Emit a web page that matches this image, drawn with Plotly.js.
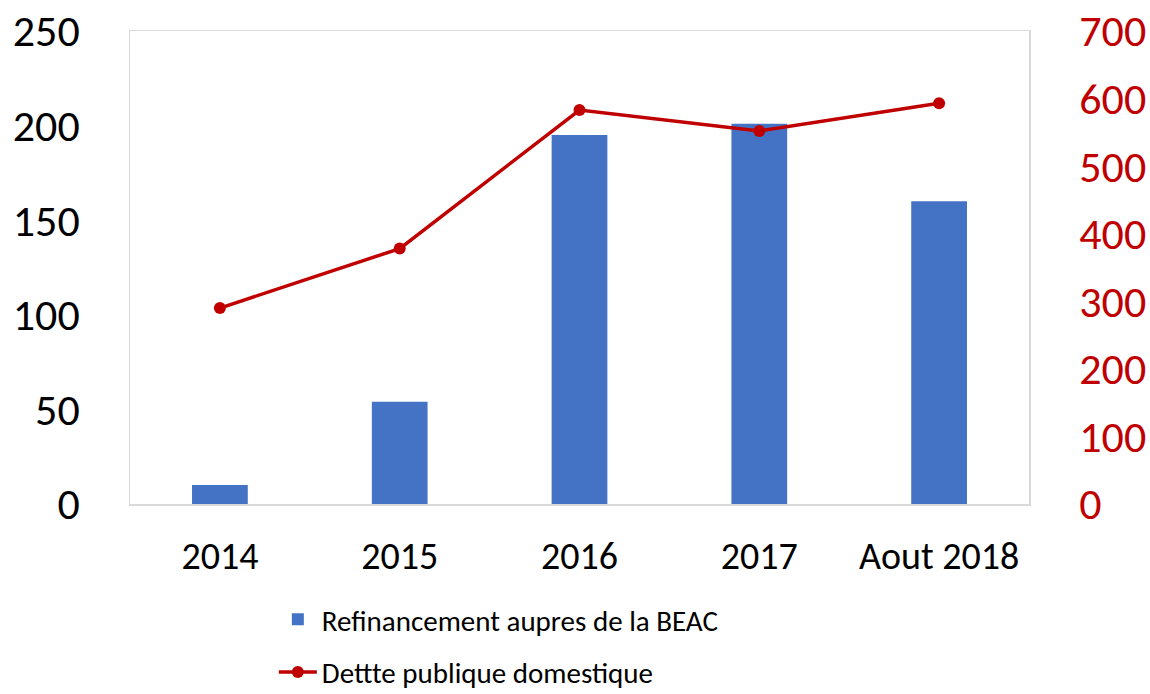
<!DOCTYPE html>
<html>
<head>
<meta charset="utf-8">
<script src="https://cdn.plot.ly/plotly-3.0.1.min.js"></script>
<style>html,body{margin:0;padding:0;background:#fff;}</style>
</head>
<body>
<div id="chart" style="width:1150px;height:694px;"></div>
<script>
const categories = ["2014", "2015", "2016", "2017", "Aout 2018"];
const refinancementBEAC = [10, 54, 195, 201, 160];
const dettePublique = [290, 378, 583, 552, 593];
const leftTicks = [0, 50, 100, 150, 200, 250];
const rightTicks = [0, 100, 200, 300, 400, 500, 600, 700];

const FONT = "Carlito, Calibri, Lato, 'Open Sans', sans-serif";

const traces = [
  {
    type: "bar",
    name: "Refinancement aupres de la BEAC",
    x: categories,
    y: refinancementBEAC,
    marker: {color: "#4472C4"},
    width: 0.31,
    yaxis: "y",
    legendgroup: "a"
  },
  {
    type: "scatter",
    mode: "lines+markers",
    name: "Dettte publique domestique",
    x: categories,
    y: dettePublique,
    line: {color: "#C00000", width: 3.5},
    marker: {color: "#C00000", size: 12},
    yaxis: "y2",
    legendgroup: "b"
  }
];

const layout = {
  width: 1150,
  height: 694,
  margin: {l: 130, r: 121, t: 31, b: 190, autoexpand: false},
  paper_bgcolor: "#ffffff",
  plot_bgcolor: "#ffffff",
  font: {family: FONT, color: "#000000"},
  showlegend: true,
  legend: {
    x: 0.16, xanchor: "left",
    y: -0.19, yanchor: "top",
    orientation: "v",
    font: {family: FONT, size: 29, color: "#000000"},
    traceorder: "grouped",
    tracegroupgap: 12,
    itemwidth: 38
  },
  xaxis: {
    type: "category",
    tickfont: {family: FONT, size: 38, color: "#000000"},
    showline: true,
    linecolor: "#d9d9d9",
    linewidth: 1.5,
    mirror: true,
    showgrid: false,
    ticks: "",
    ticklabelstandoff: 18
  },
  yaxis: {
    range: [0, 250],
    tickvals: leftTicks,
    tickfont: {family: FONT, size: 44, color: "#000000"},
    showgrid: false,
    zeroline: false,
    showline: true,
    linecolor: "#d9d9d9",
    linewidth: 1.5,
    ticks: "",
    ticklabelstandoff: 40
  },
  yaxis2: {
    overlaying: "y",
    side: "right",
    range: [0, 700],
    tickvals: rightTicks,
    tickfont: {family: FONT, size: 44, color: "#C00000"},
    showgrid: false,
    zeroline: false,
    showline: true,
    linecolor: "#d9d9d9",
    linewidth: 1.5,
    ticks: "",
    ticklabelstandoff: 40
  }
};

Plotly.newPlot("chart", traces, layout, {displayModeBar: false, staticPlot: true});
</script>
</body>
</html>
